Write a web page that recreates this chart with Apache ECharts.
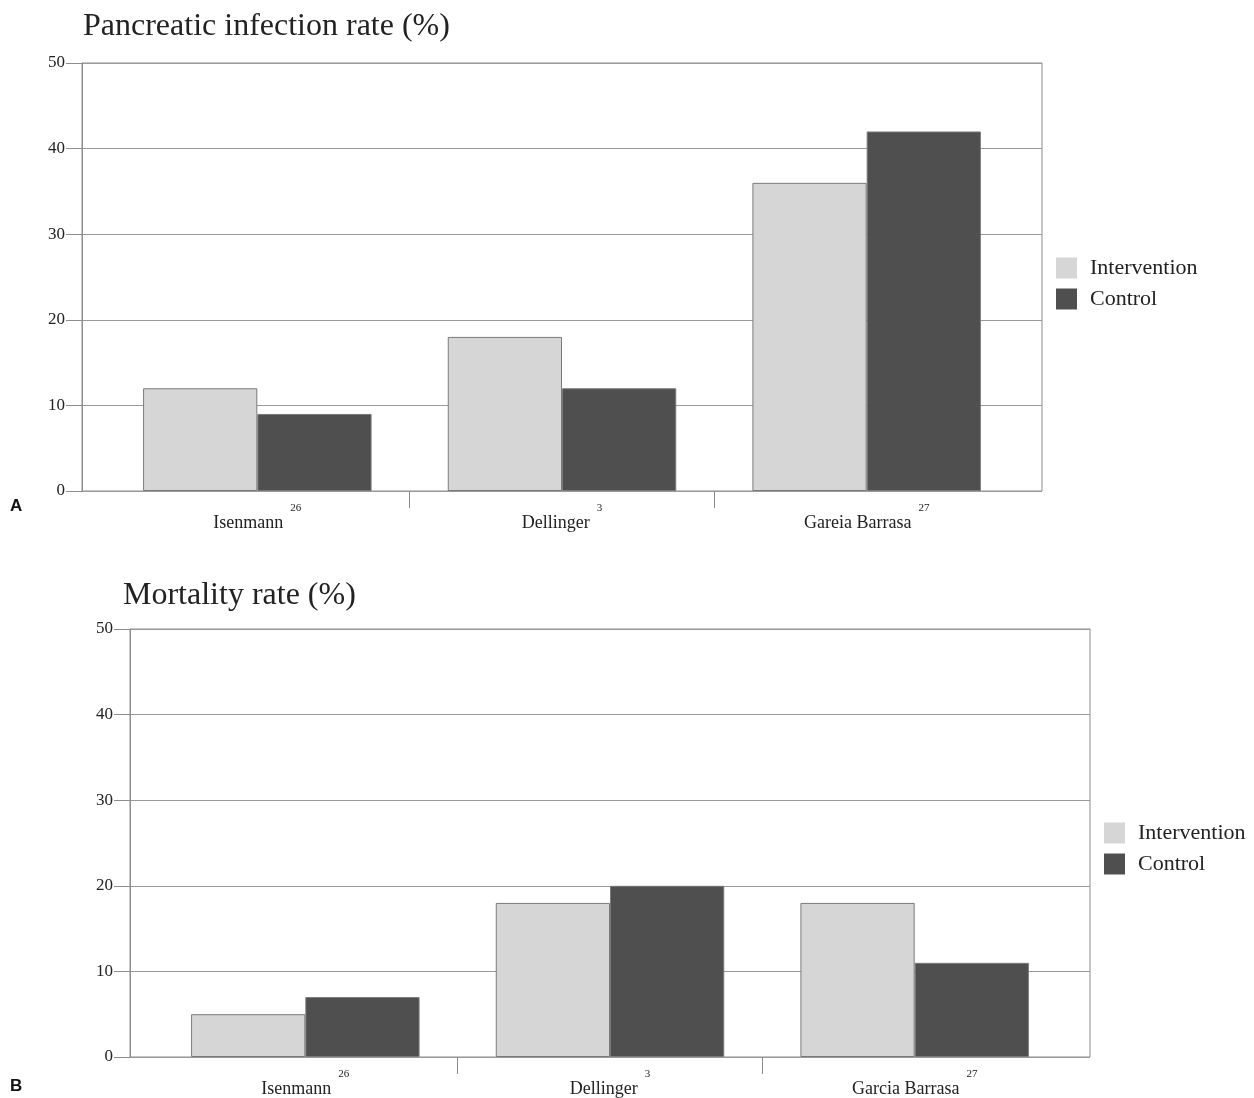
<!DOCTYPE html>
<html>
<head>
<meta charset="utf-8">
<script src="https://cdn.jsdelivr.net/npm/echarts@6/dist/echarts.min.js"></script>
<style>
  html, body { margin: 0; padding: 0; background: #fff; }
  #chart { width: 1254px; height: 1098px; }
</style>
</head>
<body>
<div id="chart"></div>
<script>
// data
const studiesA = ['Isenmann', 'Dellinger', 'Gareia Barrasa'];
const studiesB = ['Isenmann', 'Dellinger', 'Garcia Barrasa'];
const refNumbers = ['26', '3', '27'];
const infectionIntervention = [12, 18, 36];
const infectionControl = [9, 12, 42];
const mortalityIntervention = [5, 18, 18];
const mortalityControl = [7, 20, 11];
const seriesNames = ['Intervention', 'Control'];

const serif = '"Liberation Serif", "Times New Roman", serif';
const lightGrey = '#d6d6d6';
const darkGrey = '#4f4f4f';
const lineGrey = '#8c8c8c';

// layout of the two panels
const plotW = 960;
const inset = 23;      // gap between frame and first/last category band
const bandW = (plotW - 2 * inset) / 3;
const panels = [
  { left: 82, top: 63, height: 428, title: 'Pancreatic infection rate (%)', titleLeft: 78, titleTop: 6,
    cats: studiesA, vals: [infectionIntervention, infectionControl], legendLeft: 1051, legendTop: 252, letter: 'A', letterTop: 498 },
  { left: 130, top: 629, height: 428, title: 'Mortality rate (%)', titleLeft: 118, titleTop: 575,
    cats: studiesB, vals: [mortalityIntervention, mortalityControl], legendLeft: 1099, legendTop: 817, letter: 'B', letterTop: 1078 }
];

const grid = [], xAxis = [], yAxis = [], series = [], legend = [], title = [], graphic = [];

panels.forEach((p, k) => {
  const base = k * 3;
  // frame grid: box, y axis, gridlines
  grid.push({ left: p.left, top: p.top, width: plotW, height: p.height,
    show: true, borderColor: lineGrey, borderWidth: 1, backgroundColor: 'transparent' });
  // bar grid
  grid.push({ left: p.left + inset, top: p.top, width: plotW - 2 * inset, height: p.height });
  // divider-tick grid (between first and last band)
  grid.push({ left: p.left + inset + bandW, top: p.top, width: bandW, height: p.height });

  xAxis.push({ gridIndex: base, type: 'value', min: 0, max: 1, show: false });
  xAxis.push({
    gridIndex: base + 1, type: 'category', data: p.cats,
    axisLine: { show: false }, axisTick: { show: false },
    axisLabel: {
      margin: 21,
      formatter: (v, i) => '{n|' + v + '}{s|' + refNumbers[i] + '}',
      rich: {
        n: { fontFamily: serif, fontSize: 18, color: '#222', verticalAlign: 'bottom', lineHeight: 20 },
        s: { fontFamily: serif, fontSize: 11, color: '#222', verticalAlign: 'bottom', lineHeight: 12, padding: [0, 0, 18, 7] }
      }
    }
  });
  xAxis.push({
    gridIndex: base + 2, type: 'value', min: 0, max: 1, interval: 1,
    axisLine: { show: false }, axisLabel: { show: false }, splitLine: { show: false },
    axisTick: { show: true, length: 17, lineStyle: { color: lineGrey } }
  });

  yAxis.push({
    gridIndex: base, type: 'value', min: 0, max: 50, interval: 10,
    axisLine: { show: true, lineStyle: { color: lineGrey } },
    axisTick: { show: true, length: 16, lineStyle: { color: lineGrey } },
    axisLabel: { margin: 17, fontFamily: serif, fontSize: 17, color: '#222' },
    splitLine: { show: true, lineStyle: { color: '#9a9a9a', width: 1 } }
  });
  yAxis.push({ gridIndex: base + 1, type: 'value', min: 0, max: 50, show: false });
  yAxis.push({ gridIndex: base + 2, type: 'value', min: 0, max: 50, show: false });

  seriesNames.forEach((name, j) => {
    series.push({
      name, type: 'bar', xAxisIndex: base + 1, yAxisIndex: base + 1,
      data: p.vals[j], barGap: '0%', barCategoryGap: '25%',
      itemStyle: { color: j === 0 ? lightGrey : darkGrey, borderColor: '#7a7a7a', borderWidth: 1 },
      emphasis: { disabled: true }
    });
  });

  legend.push({
    data: seriesNames, orient: 'vertical', left: p.legendLeft, top: p.legendTop,
    icon: 'rect', itemWidth: 21, itemHeight: 21, itemGap: 9, selectedMode: false,
    itemStyle: { borderWidth: 0 },
    textStyle: { fontFamily: serif, fontSize: 22, color: '#222', padding: [0, 0, 0, 8] }
  });

  title.push({ text: p.title, left: p.titleLeft, top: p.titleTop,
    textStyle: { fontFamily: serif, fontSize: 32, fontWeight: 'normal', color: '#222' } });

  graphic.push({ type: 'text', left: 10, top: p.letterTop,
    style: { text: p.letter, font: 'bold 17px "Liberation Sans", Arial, sans-serif', fill: '#111' } });
});

const chart = echarts.init(document.getElementById('chart'), null, { renderer: 'canvas' });
chart.setOption({
  backgroundColor: '#fff',
  animation: false,
  title, grid, xAxis, yAxis, series, legend, graphic
});
</script>
</body>
</html>
